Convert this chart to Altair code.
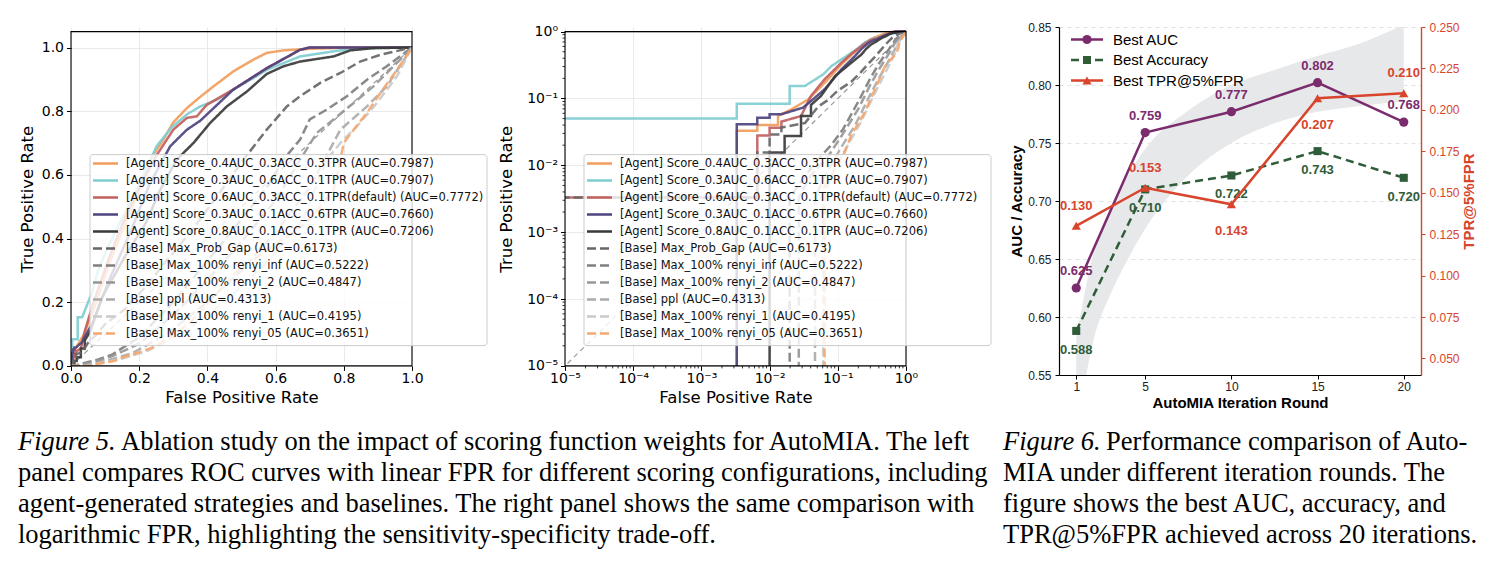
import altair as alt
import pandas as pd

# ---------------- ROC curves (Figure 5) ----------------
SERIES = [
    "[Agent] Score_0.4AUC_0.3ACC_0.3TPR (AUC=0.7987)",
    "[Agent] Score_0.3AUC_0.6ACC_0.1TPR (AUC=0.7907)",
    "[Agent] Score_0.6AUC_0.3ACC_0.1TPR(default) (AUC=0.7772)",
    "[Agent] Score_0.3AUC_0.1ACC_0.6TPR (AUC=0.7660)",
    "[Agent] Score_0.8AUC_0.1ACC_0.1TPR (AUC=0.7206)",
    "[Base] Max_Prob_Gap (AUC=0.6173)",
    "[Base] Max_100% renyi_inf (AUC=0.5222)",
    "[Base] Max_100% renyi_2 (AUC=0.4847)",
    "[Base] ppl (AUC=0.4313)",
    "[Base] Max_100% renyi_1 (AUC=0.4195)",
    "[Base] Max_100% renyi_05 (AUC=0.3651)",
]
COLORS = ["#f29d5c", "#7fcdd1", "#c1605f", "#4e4480", "#393939",
          "#676767", "#7f7f7f", "#979797", "#ababab", "#cacaca", "#f5a86f"]
DASHES = [[1, 0]] * 5 + [[9, 4]] * 6

FPR = [
    [0, 0.0033, 0.0033, 0.0066, 0.0066, 0.0133, 0.0133, 0.021, 0.037, 0.072, 0.113, 0.16, 0.2, 0.232,
     0.271, 0.30, 0.34, 0.379, 0.418, 0.476, 0.535, 0.574, 0.623, 0.70, 0.80, 1.0],
    [0, 0, 0.0033, 0.0033, 0.0197, 0.0197, 0.0327, 0.061, 0.0808, 0.113, 0.159, 0.2, 0.251, 0.296,
     0.34, 0.379, 0.428, 0.476, 0.535, 0.574, 0.672, 0.77, 0.839, 1.0],
    [0, 0, 0.0066, 0.0066, 0.01, 0.01, 0.0149, 0.0149, 0.0289, 0.0404, 0.064, 0.113, 0.16, 0.21,
     0.25, 0.30, 0.34, 0.369, 0.398, 0.476, 0.574, 0.672, 0.70, 1.0],
    [0, 0.0033, 0.0033, 0.0066, 0.0066, 0.01, 0.01, 0.0149, 0.031, 0.0433, 0.064, 0.113, 0.178,
     0.23, 0.291, 0.34, 0.379, 0.476, 0.574, 0.672, 0.70, 1.0],
    [0, 0.01, 0.01, 0.0166, 0.0166, 0.0289, 0.0289, 0.0404, 0.0404, 0.0566, 0.0913, 0.158, 0.22,
     0.26, 0.31, 0.359, 0.408, 0.457, 0.516, 0.574, 0.623, 0.672, 0.77, 0.819, 0.886, 1.0],
    [0, 0, 0.0066, 0.0066, 0.01, 0.01, 0.0149, 0.0149, 0.033, 0.052, 0.072, 0.1, 0.158, 0.22, 0.28,
     0.35, 0.42, 0.506, 0.574, 0.633, 0.672, 0.731, 0.79, 0.848, 0.907, 1.0],
    [0, 0.0197, 0.0197, 0.03, 0.05, 0.08, 0.12, 0.2, 0.3, 0.4, 0.5, 0.58, 0.623, 0.672, 0.70, 0.75,
     0.809, 0.868, 0.926, 1.0],
    [0, 0.0268, 0.0268, 0.04, 0.07, 0.12, 0.2, 0.3, 0.4, 0.5, 0.6, 0.672, 0.721, 0.77, 0.829, 0.887,
     0.946, 1.0],
    [0, 0.0463, 0.0463, 0.07, 0.11, 0.18, 0.28, 0.4, 0.5, 0.6, 0.70, 0.79, 0.868, 0.926, 1.0],
    [0, 0.0611, 0.0611, 0.09, 0.14, 0.22, 0.32, 0.45, 0.58, 0.68, 0.75, 0.79, 0.839, 0.897, 0.956, 1.0],
    [0, 0.064, 0.064, 0.1, 0.126, 0.163, 0.178, 0.232, 0.25, 0.35, 0.49, 0.69, 0.77, 0.79, 0.80,
     0.829, 0.868, 0.907, 0.956, 1.0],
]
TPR = [
    [0, 0, 0.033, 0.033, 0.04, 0.04, 0.055, 0.069, 0.097, 0.193, 0.323, 0.45, 0.55, 0.648, 0.711,
     0.765, 0.81, 0.845, 0.878, 0.925, 0.962, 0.983, 0.991, 0.996, 0.999, 1.0],
    [0, 0.05, 0.05, 0.0836, 0.0836, 0.153, 0.153, 0.229, 0.305, 0.384, 0.483, 0.57, 0.69, 0.75, 0.79,
     0.815, 0.836, 0.868, 0.904, 0.93, 0.972, 0.988, 0.998, 1.0],
    [0, 0.0033, 0.0033, 0.028, 0.028, 0.0366, 0.0366, 0.045, 0.0546, 0.109, 0.193, 0.343, 0.47, 0.58,
     0.66, 0.742, 0.779, 0.784, 0.82, 0.868, 0.935, 0.993, 1.0, 1.0],
    [0, 0, 0.041, 0.041, 0.0516, 0.0516, 0.058, 0.058, 0.073, 0.097, 0.137, 0.272, 0.43, 0.57, 0.69,
     0.742, 0.77, 0.868, 0.935, 0.993, 1.0, 1.0],
    [0, 0, 0.0155, 0.0155, 0.0274, 0.0274, 0.0546, 0.0546, 0.08, 0.109, 0.216, 0.343, 0.45, 0.55,
     0.648, 0.70, 0.763, 0.815, 0.862, 0.917, 0.941, 0.956, 0.972, 0.991, 0.998, 1.0],
    [0, 0.0033, 0.0033, 0.0155, 0.0155, 0.029, 0.029, 0.0366, 0.0429, 0.0762, 0.095, 0.131, 0.178,
     0.25, 0.33, 0.42, 0.52, 0.648, 0.742, 0.815, 0.847, 0.889, 0.92, 0.956, 0.977, 1.0],
    [0, 0, 0.0033, 0.006, 0.012, 0.02, 0.035, 0.09, 0.2, 0.33, 0.46, 0.57, 0.648, 0.711, 0.774, 0.805,
     0.847, 0.899, 0.941, 1.0],
    [0, 0, 0.0033, 0.007, 0.013, 0.03, 0.07, 0.16, 0.27, 0.39, 0.52, 0.648, 0.732, 0.774, 0.826, 0.878,
     0.941, 1.0],
    [0, 0, 0.0033, 0.008, 0.018, 0.04, 0.1, 0.2, 0.3, 0.42, 0.56, 0.742, 0.815, 0.878, 1.0],
    [0, 0, 0.0033, 0.009, 0.02, 0.045, 0.1, 0.2, 0.33, 0.46, 0.648, 0.70, 0.753, 0.826, 0.91, 1.0],
    [0, 0, 0.005, 0.01, 0.0155, 0.031, 0.0345, 0.055, 0.063, 0.136, 0.30, 0.45, 0.55, 0.648, 0.70,
     0.742, 0.795, 0.857, 0.93, 1.0],
]
DIAG = [0, 1]

# ---------------- Iteration study (Figure 6) ----------------
ROUNDS = [1, 5, 10, 15, 20]
BEST_AUC = [0.625, 0.759, 0.777, 0.802, 0.768]
BEST_ACC = [0.588, 0.710, 0.722, 0.743, 0.720]
BEST_TPR = [0.130, 0.153, 0.143, 0.207, 0.210]
TPR_LABEL_SIDE = ["above", "above", "below", "below", "above"]
BAND_X = [1, 2, 3, 4, 5, 7.5, 10, 12.5, 15, 17.5, 20]
BAND_LO = [0.500, 0.580, 0.620, 0.650, 0.676, 0.722, 0.750, 0.767, 0.777, 0.782, 0.786]
BAND_HI = [0.582, 0.655, 0.695, 0.722, 0.745, 0.778, 0.800, 0.813, 0.825, 0.836, 0.852]
LEGEND3 = ["Best AUC", "Best Accuracy", "Best TPR@5%FPR"]

# ---------------- captions ----------------
CAP5_HEAD = "Figure 5."
CAP5 = [
    "Ablation study on the impact of scoring function weights for AutoMIA. The left",
    "panel compares ROC curves with linear FPR for different scoring configurations, including",
    "agent-generated strategies and baselines. The right panel shows the same comparison with",
    "logarithmic FPR, highlighting the sensitivity-specificity trade-off.",
]
CAP6_HEAD = "Figure 6."
CAP6 = [
    "Performance comparison of Auto-",
    "MIA under different iteration rounds. The",
    "figure shows the best AUC, accuracy, and",
    "TPR@5%FPR achieved across 20 iterations.",
]

F_ROC = "DejaVu Sans"
F_P3 = "Liberation Sans"
F_CAP = "Liberation Serif"
PURPLE, GREEN, RED = "#7b2c6d", "#2f5d3a", "#d8442c"

# ROC plot frame sits a few pixels lower than the iteration panel's top
TOP1 = 4.6
W1, H1 = 341, 338.9
W3, H3 = 362, 348

rows = []
for name, fs, ts in zip(SERIES, FPR, TPR):
    for i, (f, t) in enumerate(zip(fs, ts)):
        rows.append({"series": name, "pt": i, "fpr": f, "tpr": t})
roc_df = pd.DataFrame(rows)
diag_df = pd.DataFrame({"fpr": DIAG, "tpr": DIAG})

color_scale = alt.Scale(domain=SERIES, range=COLORS)
dash_scale = alt.Scale(domain=SERIES, range=DASHES)

LOG_MAJOR = [1e-5, 1e-4, 1e-3, 1e-2, 1e-1, 1.0]
LOG_MINOR = [m * 10.0 ** e for e in range(-5, 0) for m in range(2, 10)]
LOG_LABEL = ("['10\u207b\u2075','10\u207b\u2074','10\u207b\u00b3','10\u207b\u00b2',"
             "'10\u207b\u00b9','10\u2070'][round(log(datum.value)/LN10)+5]")


def one(**cols):
    return alt.Chart(pd.DataFrame({k: [v] for k, v in cols.items()}))


def roc_axis(title, log, orient, title_pad):
    kw = dict(title=title, labelFont=F_ROC, labelFontSize=14, labelColor="black",
              titleFont=F_ROC, titleFontSize=16.5, titleFontWeight="normal", titleColor="black",
              tickColor="black", tickWidth=1, tickSize=4.5, domain=False, gridColor="#e4e4e4",
              gridWidth=0.8, labelPadding=1 if orient == "bottom" else 3, titlePadding=title_pad,
              labelFlush=False, labelOverlap=False)
    if log:
        kw.update(values=LOG_MAJOR, labelExpr=LOG_LABEL)
    else:
        kw.update(values=[0, 0.2, 0.4, 0.6, 0.8, 1.0], format=".1f")
    return alt.Axis(**kw)


def roc_panel(log, box_w, extra=()):
    if log:
        xs = alt.Scale(type="log", domain=[1e-5, 1], nice=False)
        ys = alt.Scale(type="log", domain=[1e-5, 1], nice=False, range=[H1, TOP1])
        xf, yf = "fpr_l", "tpr_l"
        ypad = 12
    else:
        xs = alt.Scale(domain=[0, 1], nice=False, zero=False)
        ys = alt.Scale(domain=[0, 1.05], nice=False, zero=False, range=[H1, TOP1])
        xf, yf = "fpr", "tpr"
        ypad = 6
    clamp = dict(fpr_l="max(datum.fpr, 1e-6)", tpr_l="max(datum.tpr, 1e-6)")

    diag = alt.Chart(diag_df).transform_calculate(**clamp).mark_line(
        color="#9a9a9a", strokeDash=[5, 4], strokeWidth=1.2, clip=True
    ).encode(
        x=alt.X(f"{xf}:Q", scale=xs, axis=roc_axis("False Positive Rate", log, "bottom", 4)),
        y=alt.Y(f"{yf}:Q", scale=ys, axis=roc_axis("True Positive Rate", log, "left", ypad)),
    )
    curves = alt.Chart(roc_df).transform_calculate(**clamp).mark_line(
        strokeWidth=2.5, opacity=0.92, clip=True
    ).encode(
        x=alt.X(f"{xf}:Q", scale=xs),
        y=alt.Y(f"{yf}:Q", scale=ys),
        color=alt.Color("series:N", scale=color_scale, legend=None),
        strokeDash=alt.StrokeDash("series:N", scale=dash_scale, legend=None),
        order=alt.Order("pt:Q"),
    )
    frame = one(k=0).mark_rect(fillOpacity=0, stroke="black", strokeWidth=1.1).encode(
        x=alt.value(0), x2=alt.value(W1), y=alt.value(TOP1), y2=alt.value(H1))
    box = one(k=0).mark_rect(
        fill="white", fillOpacity=0.8, stroke="#cccccc", strokeWidth=1, cornerRadius=3
    ).encode(x=alt.value(19), x2=alt.value(19 + box_w), y=alt.value(TOP1 + 123),
             y2=alt.value(TOP1 + 314))

    layers = [diag, curves, frame]
    if log:
        minor = pd.DataFrame({"v": LOG_MINOR})
        layers.append(alt.Chart(minor).mark_rule(color="black", strokeWidth=0.8).encode(
            x=alt.X("v:Q", scale=xs), y=alt.value(H1), y2=alt.value(H1 + 2.5)))
        layers.append(alt.Chart(minor).mark_rule(color="black", strokeWidth=0.8).encode(
            y=alt.Y("v:Q", scale=ys), x=alt.value(0), x2=alt.value(-2.5)))
    layers.append(box)
    # legend rows: handle drawn with the same colour / dash scales as the curves
    for i, name in enumerate(SERIES):
        row_y = TOP1 + 132 + 17 * i
        entry = one(series=name)
        layers.append(entry.mark_rule(strokeWidth=2.5).encode(
            x=alt.value(22), x2=alt.value(47), y=alt.value(row_y),
            color=alt.Color("series:N", scale=color_scale, legend=None),
            strokeDash=alt.StrokeDash("series:N", scale=dash_scale, legend=None)))
        layers.append(entry.mark_text(align="left", baseline="middle", font=F_ROC, fontSize=11.5,
                                      color="#111111").encode(
            x=alt.value(55), y=alt.value(row_y), text="series:N"))
    layers += list(extra)
    return alt.layer(*layers).properties(width=W1, height=H1)


# ---------------- captions (placed below the panels) ----------------
def caption(head, lines, x0, head_w, base_y):
    style = dict(align="left", baseline="alphabetic", font=F_CAP, fontSize=26.5, color="black")
    out = [one(text=head).mark_text(fontStyle="italic", **style).encode(
        x=alt.value(x0), y=alt.value(base_y), text="text:N")]
    for i, line in enumerate(lines):
        out.append(one(text=line).mark_text(**style).encode(
            x=alt.value(x0 + (head_w if i == 0 else 0)), y=alt.value(base_y + 31 * i),
            text="text:N"))
    return out


caps = caption(CAP5_HEAD, CAP5, -53, 103, 423.3) + caption(CAP6_HEAD, CAP6, 932, 103, 423.3)

p1 = roc_panel(False, 397, caps)
p2 = roc_panel(True, 407)

# ---------------- Figure 6 panel ----------------
p3_df = pd.DataFrame({"round": ROUNDS, "auc": BEST_AUC, "acc": BEST_ACC, "tpr": BEST_TPR,
                      "side": TPR_LABEL_SIDE})
band_df = pd.DataFrame({"round": BAND_X, "lo": BAND_LO, "hi": BAND_HI})

xs3 = alt.Scale(domain=[0, 21], nice=False, zero=False)
yl = alt.Scale(domain=[0.55, 0.85], nice=False, zero=False)
yr = alt.Scale(domain=[0.04, 0.25], nice=False, zero=False)

x_axis3 = alt.Axis(values=ROUNDS, title="AutoMIA Iteration Round", grid=False,
                   labelFont=F_P3, labelFontSize=12, labelColor="#222222", tickColor="black",
                   tickSize=4, labelPadding=2, domainColor="black", domainWidth=1.2,
                   titleFont=F_P3, titleFontSize=15, titleFontWeight="bold", titleColor="black",
                   titlePadding=3, labelFlush=False)
y_axis3 = alt.Axis(values=[0.55, 0.60, 0.65, 0.70, 0.75, 0.80, 0.85], format=".2f",
                   title="AUC / Accuracy", grid=True, gridDash=[4, 4], gridColor="#dcdcdc",
                   gridWidth=0.8, labelFont=F_P3, labelFontSize=12, labelColor="#222222",
                   tickColor="black", tickSize=4, labelPadding=4, domainColor="black",
                   domainWidth=1.2, titleFont=F_P3, titleFontSize=15, titleFontWeight="bold",
                   titleColor="black", titlePadding=3, labelFlush=False)
yr_axis = alt.Axis(values=[0.05, 0.075, 0.1, 0.125, 0.15, 0.175, 0.2, 0.225, 0.25], format=".3f",
                   orient="right", title="TPR@5%FPR", grid=False, labelFont=F_P3, labelFontSize=12,
                   labelColor=RED, tickColor=RED, tickSize=4, labelPadding=4, domainColor=RED,
                   domainWidth=1.4, titleFont=F_P3, titleFontSize=15, titleFontWeight="bold",
                   titleColor=RED, titlePadding=2, titleAngle=270, titleBaseline="top",
                   labelFlush=False)

band = alt.Chart(band_df).mark_area(color="#e7e8ea", clip=True, interpolate="monotone").encode(
    x=alt.X("round:Q", scale=xs3, axis=x_axis3),
    y=alt.Y("lo:Q", scale=yl, axis=y_axis3),
    y2="hi:Q",
)
base3 = alt.Chart(p3_df)
X3 = alt.X("round:Q", scale=xs3)
auc_line = base3.mark_line(color=PURPLE, strokeWidth=2.5).encode(
    x=X3, y=alt.Y("auc:Q", scale=yl))
auc_pts = base3.mark_point(color=PURPLE, filled=True, opacity=1, size=85, shape="circle").encode(
    x=X3, y=alt.Y("auc:Q", scale=yl))
auc_txt = base3.mark_text(color=PURPLE, font=F_P3, fontWeight="bold", fontSize=13, dy=-17).encode(
    x=X3, y=alt.Y("auc:Q", scale=yl), text=alt.Text("auc:Q", format=".3f"))
acc_line = base3.mark_line(color=GREEN, strokeWidth=2.5, strokeDash=[8, 5]).encode(
    x=X3, y=alt.Y("acc:Q", scale=yl))
acc_pts = base3.mark_point(color=GREEN, filled=True, opacity=1, size=65, shape="square").encode(
    x=X3, y=alt.Y("acc:Q", scale=yl))
acc_txt = base3.mark_text(color=GREEN, font=F_P3, fontWeight="bold", fontSize=13, dy=19).encode(
    x=X3, y=alt.Y("acc:Q", scale=yl), text=alt.Text("acc:Q", format=".3f"))
left3 = alt.layer(band, auc_line, auc_pts, auc_txt, acc_line, acc_pts, acc_txt)

tpr_line = base3.mark_line(color=RED, strokeWidth=2.5).encode(
    x=X3, y=alt.Y("tpr:Q", scale=yr, axis=yr_axis))
tpr_pts = base3.mark_point(color=RED, filled=True, opacity=1, size=85, shape="triangle-up").encode(
    x=X3, y=alt.Y("tpr:Q", scale=yr))
tpr_up = base3.transform_filter("datum.side == 'above'").mark_text(
    color=RED, font=F_P3, fontWeight="bold", fontSize=13, dy=-20).encode(
    x=X3, y=alt.Y("tpr:Q", scale=yr), text=alt.Text("tpr:Q", format=".3f"))
tpr_dn = base3.transform_filter("datum.side == 'below'").mark_text(
    color=RED, font=F_P3, fontWeight="bold", fontSize=13, dy=27).encode(
    x=X3, y=alt.Y("tpr:Q", scale=yr), text=alt.Text("tpr:Q", format=".3f"))

# legend entries (line handle + marker + label)
leg3 = []
for i, (name, col, dash, shape, size) in enumerate(zip(
        LEGEND3, [PURPLE, GREEN, RED], [[1, 0], [8, 4], [1, 0]],
        ["circle", "square", "triangle-up"], [85, 65, 85])):
    row_y = 12.5 + 20.5 * i
    d = one(label=name)
    leg3.append(d.mark_rule(color=col, strokeWidth=2.5, strokeDash=dash).encode(
        x=alt.value(12), x2=alt.value(44), y=alt.value(row_y)))
    leg3.append(d.mark_point(color=col, filled=True, opacity=1, shape=shape, size=size).encode(
        x=alt.value(28), y=alt.value(row_y)))
    leg3.append(d.mark_text(align="left", baseline="middle", font=F_P3, fontSize=15,
                            color="black").encode(
        x=alt.value(54), y=alt.value(row_y), text="label:N"))

right3 = alt.layer(tpr_line, tpr_pts, tpr_up, tpr_dn, *leg3)
p3 = alt.layer(left3, right3).resolve_scale(y="independent").properties(width=W3, height=H3)

chart = alt.hconcat(p1, p2, p3, spacing=153, bounds="flush").properties(
    padding={"left": 18, "top": 21, "right": 0, "bottom": 0}, background="white"
).configure_view(stroke=None)

chart.save("out.html", embed_options={"renderer": "svg", "actions": False})
